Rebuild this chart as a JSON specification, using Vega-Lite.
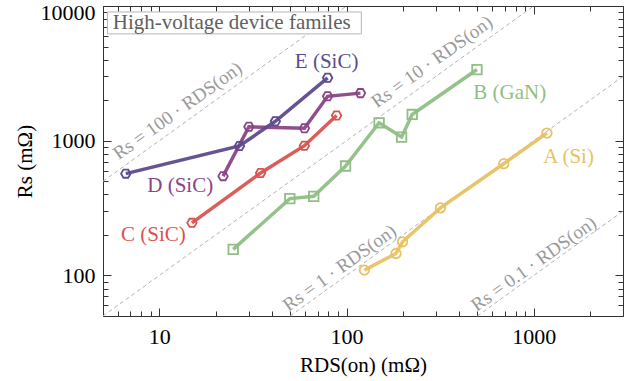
{
  "$schema": "https://vega.github.io/schema/vega-lite/v6.json",
  "width": 520,
  "height": 310,
  "autosize": {"type": "none"},
  "padding": {"left": 103, "top": 6, "right": 1, "bottom": 65},
  "config": {"view": {"stroke": null}, "font": "Liberation Serif",
    "axis": {"labelFont": "Liberation Serif", "titleFont": "Liberation Serif"}},
  "datasets": {
    "series": [
      {"series": "A (Si)", "rds": 124.6, "rs": 109.5},
      {"series": "A (Si)", "rds": 183.8, "rs": 145.5},
      {"series": "A (Si)", "rds": 199.3, "rs": 177.8},
      {"series": "A (Si)", "rds": 317.5, "rs": 317.3},
      {"series": "A (Si)", "rds": 692.3, "rs": 675.3},
      {"series": "A (Si)", "rds": 1177, "rs": 1140},
      {"series": "B (GaN)", "rds": 24.8, "rs": 156},
      {"series": "B (GaN)", "rds": 49.8, "rs": 371.8},
      {"series": "B (GaN)", "rds": 66.8, "rs": 386.8},
      {"series": "B (GaN)", "rds": 98.8, "rs": 649.4},
      {"series": "B (GaN)", "rds": 149.3, "rs": 1359},
      {"series": "B (GaN)", "rds": 196.9, "rs": 1065},
      {"series": "B (GaN)", "rds": 224.4, "rs": 1566},
      {"series": "B (GaN)", "rds": 497.6, "rs": 3375},
      {"series": "C (SiC)", "rds": 14.93, "rs": 245.7},
      {"series": "C (SiC)", "rds": 34.75, "rs": 576.5},
      {"series": "C (SiC)", "rds": 59.57, "rs": 918},
      {"series": "C (SiC)", "rds": 88.5, "rs": 1539},
      {"series": "D (SiC)", "rds": 21.9, "rs": 545.8},
      {"series": "D (SiC)", "rds": 30.1, "rs": 1270},
      {"series": "D (SiC)", "rds": 59.6, "rs": 1236},
      {"series": "D (SiC)", "rds": 79.25, "rs": 2136},
      {"series": "D (SiC)", "rds": 118.7, "rs": 2256},
      {"series": "E (SiC)", "rds": 6.62, "rs": 569.6},
      {"series": "E (SiC)", "rds": 26.8, "rs": 915},
      {"series": "E (SiC)", "rds": 41.66, "rs": 1394},
      {"series": "E (SiC)", "rds": 79.25, "rs": 2930}
    ],
    "labels": [
      {"series": "A (Si)", "rds": 1535, "rs": 761},
      {"series": "B (GaN)", "rds": 745, "rs": 2268},
      {"series": "C (SiC)", "rds": 9.29, "rs": 201},
      {"series": "D (SiC)", "rds": 12.93, "rs": 464},
      {"series": "E (SiC)", "rds": 78.3, "rs": 3846}
    ],
    "refs": [
      {"k": "100", "rds": 5, "rs": 500},
      {"k": "100", "rds": 100, "rs": 10000},
      {"k": "10", "rds": 5, "rs": 50},
      {"k": "10", "rds": 1000, "rs": 10000},
      {"k": "1", "rds": 50, "rs": 50},
      {"k": "1", "rds": 3000, "rs": 3000},
      {"k": "0.1", "rds": 500, "rs": 50},
      {"k": "0.1", "rds": 3000, "rs": 300}
    ],
    "reflabels": [
      {"text": "Rs = 100 · RDS(on)", "rds": 12.5, "rs": 1667},
      {"text": "Rs = 10 · RDS(on)", "rds": 286, "rs": 3850},
      {"text": "Rs = 1 · RDS(on)", "rds": 91.9, "rs": 113.7},
      {"text": "Rs = 0.1 · RDS(on)", "rds": 1000, "rs": 121.7}
    ],
    "box": [
      {"x1": 5.28, "x2": 120, "y1": 6210, "y2": 9030, "tx": 5.64, "ty": 7470, "text": "High-voltage device familes"}
    ]
  },
  "resolve": {"axis": {"x": "independent", "y": "independent"}},
  "layer": [
    {
      "data": {"name": "refs"},
      "mark": {"type": "line", "color": "#b3b3b3", "strokeWidth": 1, "strokeDash": [4, 3]},
      "encoding": {
        "x": {"field": "rds", "type": "quantitative",
          "scale": {"type": "log", "domain": [5, 3000], "nice": false},
          "axis": {"orient": "top", "labels": false, "title": null, "grid": false,
            "values": [5,6,7,8,9,10,20,30,40,50,60,70,80,90,100,200,300,400,500,600,700,800,900,1000,2000,3000],
            "domainColor": "#333", "tickColor": "#333",
            "tickSize": {"condition": {"test": "indexof([10,100,1000], datum.value) >= 0", "value": -8}, "value": -5}}},
        "y": {"field": "rs", "type": "quantitative",
          "scale": {"type": "log", "domain": [50, 10000], "nice": false},
          "axis": {"orient": "right", "labels": false, "title": null, "grid": false,
            "values": [50,60,70,80,90,100,200,300,400,500,600,700,800,900,1000,2000,3000,4000,5000,6000,7000,8000,9000,10000],
            "domainColor": "#333", "tickColor": "#333",
            "tickSize": {"condition": {"test": "indexof([100,1000,10000], datum.value) >= 0", "value": -8}, "value": -5}}},
        "detail": {"field": "k"}
      }
    },
    {
      "data": {"name": "reflabels"},
      "mark": {"type": "text", "angle": -35.6, "color": "#9a9a9a", "fontSize": 19, "align": "center", "baseline": "middle", "font": "Liberation Serif"},
      "encoding": {
        "x": {"field": "rds", "type": "quantitative", "scale": {"type": "log", "domain": [5, 3000], "nice": false}, "axis": null},
        "y": {"field": "rs", "type": "quantitative", "scale": {"type": "log", "domain": [50, 10000], "nice": false}, "axis": null},
        "text": {"field": "text"}
      }
    },
    {
      "data": {"name": "series"},
      "mark": {"type": "line", "strokeWidth": 3.5, "opacity": 0.95},
      "encoding": {
        "x": {"field": "rds", "type": "quantitative",
          "scale": {"type": "log", "domain": [5, 3000], "nice": false},
          "axis": {"orient": "bottom", "grid": false, "title": "RDS(on) (mΩ)",
            "values": [5,6,7,8,9,10,20,30,40,50,60,70,80,90,100,200,300,400,500,600,700,800,900,1000,2000,3000],
            "format": "d",
            "labelExpr": "indexof([10,100,1000], datum.value) >= 0 ? datum.label : ''",
            "labelOverlap": false, "labelFlush": false,
            "labelFont": "Liberation Serif", "labelFontSize": 22, "labelColor": "#000",
            "titleFont": "Liberation Serif", "titleFontSize": 21, "titleFontWeight": "normal", "titleColor": "#000",
            "titlePadding": 4, "labelPadding": 18,
            "domainColor": "#333", "tickColor": "#333",
            "tickSize": {"condition": {"test": "indexof([10,100,1000], datum.value) >= 0", "value": -8}, "value": -5}}},
        "y": {"field": "rs", "type": "quantitative",
          "scale": {"type": "log", "domain": [50, 10000], "nice": false},
          "axis": {"orient": "left", "grid": false, "title": "Rs (mΩ)",
            "values": [50,60,70,80,90,100,200,300,400,500,600,700,800,900,1000,2000,3000,4000,5000,6000,7000,8000,9000,10000],
            "format": "d",
            "labelExpr": "indexof([100,1000,10000], datum.value) >= 0 ? datum.label : ''",
            "labelOverlap": false, "labelFlush": false,
            "labelOffset": {"condition": {"test": "datum.value == 10000", "value": 6}, "value": 0},
            "labelFont": "Liberation Serif", "labelFontSize": 22, "labelColor": "#000",
            "titleFont": "Liberation Serif", "titleFontSize": 21, "titleFontWeight": "normal", "titleColor": "#000",
            "titlePadding": 5, "labelPadding": 16,
            "domainColor": "#333", "tickColor": "#333",
            "tickSize": {"condition": {"test": "indexof([100,1000,10000], datum.value) >= 0", "value": -8}, "value": -5}}},
        "color": {"field": "series", "type": "nominal", "legend": null,
          "scale": {"domain": ["A (Si)", "B (GaN)", "C (SiC)", "D (SiC)", "E (SiC)"],
            "range": ["#e9c163", "#8fbf84", "#d9534f", "#8b4487", "#5e4a8e"]}}
      }
    },
    {
      "data": {"name": "series"},
      "mark": {"type": "point", "filled": false, "strokeWidth": 1.8, "size": 90, "opacity": 1},
      "encoding": {
        "x": {"field": "rds", "type": "quantitative", "scale": {"type": "log", "domain": [5, 3000], "nice": false}, "axis": null},
        "y": {"field": "rs", "type": "quantitative", "scale": {"type": "log", "domain": [50, 10000], "nice": false}, "axis": null},
        "color": {"field": "series", "type": "nominal", "legend": null},
        "shape": {"field": "series", "type": "nominal", "legend": null,
          "scale": {"domain": ["A (Si)", "B (GaN)", "C (SiC)", "D (SiC)", "E (SiC)"],
            "range": ["circle", "square",
              "M-1,0L-0.5,-0.866L0.5,-0.866L1,0L0.5,0.866L-0.5,0.866Z",
              "M-1,0L-0.5,-0.866L0.5,-0.866L1,0L0.5,0.866L-0.5,0.866Z",
              "M-1,0L-0.5,-0.866L0.5,-0.866L1,0L0.5,0.866L-0.5,0.866Z"]}}
      }
    },
    {
      "data": {"name": "labels"},
      "mark": {"type": "text", "fontSize": 21, "font": "Liberation Serif", "align": "center", "baseline": "middle"},
      "encoding": {
        "x": {"field": "rds", "type": "quantitative", "scale": {"type": "log", "domain": [5, 3000], "nice": false}, "axis": null},
        "y": {"field": "rs", "type": "quantitative", "scale": {"type": "log", "domain": [50, 10000], "nice": false}, "axis": null},
        "color": {"field": "series", "type": "nominal", "legend": null},
        "text": {"field": "series"}
      }
    },
    {
      "data": {"name": "box"},
      "mark": {"type": "rect", "fill": "#ffffff", "stroke": "#b5b5b5", "strokeWidth": 1},
      "encoding": {
        "x": {"field": "x1", "type": "quantitative", "scale": {"type": "log", "domain": [5, 3000], "nice": false}, "axis": null},
        "x2": {"field": "x2"},
        "y": {"field": "y1", "type": "quantitative", "scale": {"type": "log", "domain": [50, 10000], "nice": false}, "axis": null},
        "y2": {"field": "y2"}
      }
    },
    {
      "data": {"name": "box"},
      "mark": {"type": "text", "fontSize": 21, "font": "Liberation Serif", "align": "left", "baseline": "middle", "color": "#606060"},
      "encoding": {
        "x": {"field": "tx", "type": "quantitative", "scale": {"type": "log", "domain": [5, 3000], "nice": false}, "axis": null},
        "y": {"field": "ty", "type": "quantitative", "scale": {"type": "log", "domain": [50, 10000], "nice": false}, "axis": null},
        "text": {"field": "text"}
      }
    }
  ]
}
